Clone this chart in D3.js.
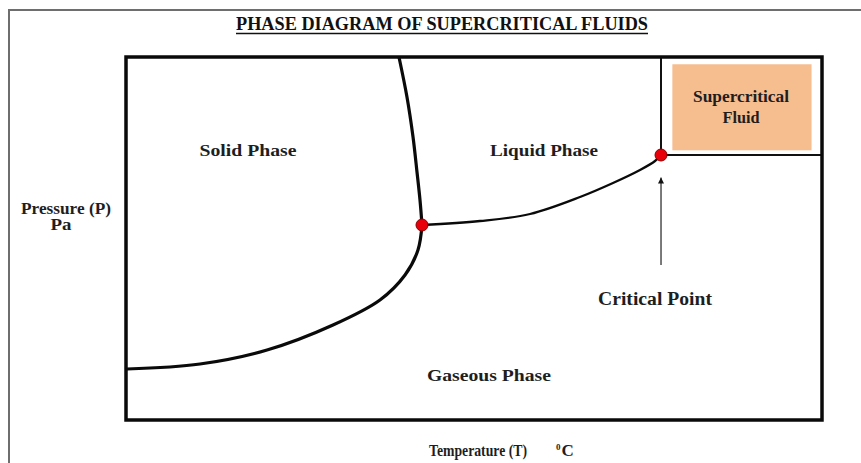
<!DOCTYPE html>
<html><head><meta charset="utf-8">
<script src="https://cdn.jsdelivr.net/npm/d3@7"></script>
<style>body{margin:0;background:#fff}svg{display:block}</style>
</head><body>
<svg id="c" width="861" height="463"></svg>
<script>
// Data (temperature / pressure in arbitrary domain units 0-100)
const fusionCurve = [[39.22,100],[40.37,88.98],[41.24,77.96],[41.81,68.32],[42.24,60.61],[42.53,53.72]];
const sublimationCurve = [[0.14,14.05],[10.63,15.43],[20.26,19.28],[29.74,26.17],[36.49,33.06],[40.09,39.94],[41.95,46.83],[42.53,53.72]];
const vaporCurve = [[42.53,53.72],[50.86,54.82],[58.05,56.75],[65.23,61.43],[69.97,65.29],[73.85,68.87],[76.01,71.35],[76.87,73.0]];
const points = [{name:"Triple Point", t:42.53, p:53.72},{name:"Critical Point", t:76.87, p:73.0}];
const phaseLabels = ["Solid Phase","Liquid Phase","Gaseous Phase"];
const title = "PHASE DIAGRAM OF SUPERCRITICAL FLUIDS";

const svg = d3.select("#c");
const x = d3.scaleLinear().domain([0,100]).range([126,822]);
const y = d3.scaleLinear().domain([0,100]).range([420,57]);

// outer frame
svg.append("rect").attr("x",9).attr("y",10).attr("width",900).attr("height",500)
  .attr("fill","none").attr("stroke","#6e6e6e").attr("stroke-width",2);

// supercritical region lines & box
const cp = points[1];
svg.append("line").attr("x1",x(cp.t)).attr("y1",y(100)).attr("x2",x(cp.t)).attr("y2",y(cp.p))
  .attr("stroke","#111").attr("stroke-width",2);
svg.append("line").attr("x1",x(cp.t)).attr("y1",y(cp.p)).attr("x2",x(100)).attr("y2",y(cp.p))
  .attr("stroke","#111").attr("stroke-width",2);
svg.append("rect").attr("x",x(78.5)).attr("y",y(98)).attr("width",x(98.5)-x(78.5)).attr("height",y(74.3)-y(98))
  .attr("fill","#f6bd8f");

// plot box
svg.append("rect").attr("x",x(0)).attr("y",y(100)).attr("width",x(100)-x(0)).attr("height",y(0)-y(100))
  .attr("fill","none").attr("stroke","#0a0a0a").attr("stroke-width",3.5);

const line = d3.line().x(d=>x(d[0])).y(d=>y(d[1])).curve(d3.curveCatmullRom.alpha(0.5));
svg.append("path").attr("d",line(fusionCurve)).attr("fill","none").attr("stroke","#0a0a0a").attr("stroke-width",3.2);
svg.append("path").attr("d",line(sublimationCurve)).attr("fill","none").attr("stroke","#0a0a0a").attr("stroke-width",3.2);
svg.append("path").attr("d",line(vaporCurve)).attr("fill","none").attr("stroke","#0a0a0a").attr("stroke-width",2.3);

// arrow
svg.append("defs").append("marker").attr("id","ah").attr("viewBox","0 0 10 10").attr("refX",10).attr("refY",5)
  .attr("markerWidth",6).attr("markerHeight",6).attr("markerUnits","userSpaceOnUse").attr("orient","auto")
  .append("path").attr("d","M0,0L10,5L0,10z").attr("fill","#111");
svg.append("line").attr("x1",x(cp.t)).attr("y1",y(42.7)).attr("x2",x(cp.t)).attr("y2",y(66.8))
  .attr("stroke","#222").attr("stroke-width",1.2).attr("marker-end","url(#ah)");

// points
svg.selectAll("circle.pt").data(points).join("circle").attr("class","pt")
  .attr("cx",d=>x(d.t)).attr("cy",d=>y(d.p)).attr("r",6)
  .attr("fill","#e8000b").attr("stroke","#8a0000").attr("stroke-width",1);

const font = "'Liberation Serif', 'Times New Roman', serif";
function txt(s, px, py, size, len, weight){
  const t = svg.append("text").attr("x",px).attr("y",py).attr("text-anchor","middle")
    .attr("font-family",font).attr("font-size",size).attr("font-weight",weight||"bold")
    .attr("fill","#1e1e1e").text(s);
  if(len) t.attr("textLength",len).attr("lengthAdjust","spacingAndGlyphs");
  return t;
}
// title
txt(title, 442, 30, 18, 412, "bold").attr("fill","#111");
svg.append("line").attr("x1",236).attr("x2",648).attr("y1",33.5).attr("y2",33.5).attr("stroke","#111").attr("stroke-width",1.3);

txt(phaseLabels[0], 248, 156, 17, 97);
txt(phaseLabels[1], 544, 156, 17, 108);
txt(phaseLabels[2], 489, 381, 17, 124);
txt("Supercritical", 741, 102, 16, 96);
txt("Fluid", 741, 123, 16, 37);
txt(points[1].name, 655, 305, 18, 114);
txt("Pressure (P)", 66, 214, 16, 90);
txt("Pa", 61, 230, 16, 21);
txt("Temperature (T)", 478, 456, 16, 98);
svg.append("text").attr("x",556).attr("y",456).attr("font-family",font).attr("font-size",17).attr("font-weight","bold")
  .attr("fill","#1e1e1e").html('<tspan font-size="9" dy="-6">0</tspan><tspan dy="6" dx="1">C</tspan>');
</script>
</body></html>
